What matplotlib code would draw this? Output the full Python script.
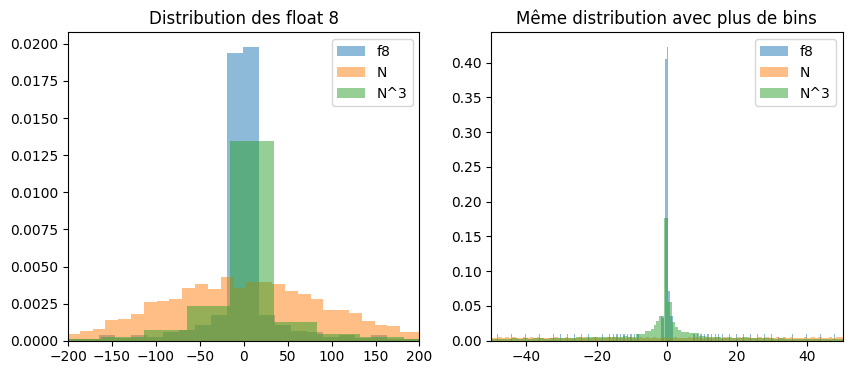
import numpy as np
import matplotlib.pyplot as plt

# ---- left panel: bin edges and densities ----
f8_edges = [-201.0, -182.8, -164.6, -146.4, -128.2, -110.0, -91.8, -73.6, -55.4, -37.2,
            -19.0, -0.8, 17.4, 35.6, 53.8, 72.0, 90.2, 108.4, 126.6, 144.8,
            163.0, 181.2, 199.4, 217.6]
f8_dens = [0.00014, 0.00014, 0.00039, 0.00020, 0.00039, 0.00023, 0.00058, 0.00069, 0.00106, 0.00176,
           0.01938, 0.01979, 0.00176, 0.00106, 0.00068, 0.00058, 0.00023, 0.00039, 0.00020, 0.00039,
           0.00014, 0.00014, 0.00014]

n_edges = [-201.3, -186.7, -172.1, -157.5, -142.9, -128.3, -113.7, -99.1, -84.5, -69.9,
           -55.3, -40.7, -26.1, -11.5, 3.0, 17.6, 32.2, 46.8, 61.4, 76.0,
           90.6, 105.2, 119.8, 134.4, 149.0, 163.6, 178.2, 192.8, 207.4]
n_dens = [0.00047, 0.00067, 0.00081, 0.00142, 0.00148, 0.00182, 0.00263, 0.00270, 0.00283, 0.00357,
          0.00384, 0.00350, 0.00431, 0.00353, 0.00393, 0.00393, 0.00384, 0.00337, 0.00317, 0.00283,
          0.00209, 0.00209, 0.00184, 0.00135, 0.00108, 0.00101, 0.00056, 0.00056]

n3_edges = [-212.3, -163.0, -113.7, -64.4, -15.1, 34.2, 83.5, 132.8, 182.1, 231.4]
n3_dens = [0.00014, 0.00023, 0.00074, 0.00236, 0.01345, 0.00128, 0.00045, 0.00025, 0.00012]

# ---- right panel (more bins) ----
# float8 values that show up as isolated spikes
f8_spikes = [-48, -44, -40, -36, -32, -30, -28, -26, -24, -22, -20, -18, -16, -15, -14, -13, -12, -11, -10, -9, -8,
             8, 9, 10, 11, 12, 13, 14, 15, 16, 18, 20, 22, 24, 26, 28, 30, 32, 36, 40, 44, 48]
f8_spike_dens = [.0096, .0094, .0097, .0095, .0093, .0090, .0095, .0096, .0094, .0092, .0060, .0095, .0096, .0094,
                 .0097, .0090, .0095, .0093, .0096, .0098, .0100,
                 .0100, .0098, .0096, .0095, .0094, .0093, .0095, .0092, .0094, .0096, .0095, .0097, .0094,
                 .0096, .0093, .0095, .0060, .0096, .0094, .0095, .0097]
f8_mid_edges = [-1.8, -0.95, -0.65, 0.0, 0.2, 0.75, 1.7]
f8_mid_dens = [0.0355, 0.0, 0.405, 0.4224, 0.071, 0.0355]

n_r_range = (-50.0, 50.0)
n_r_dens = [.0045, .0038, .0052, .0041, .0047, .0036, .0050, .0043, .0039, .0055,
            .0042, .0048, .0037, .0051, .0044, .0040, .0046, .0035, .0049, .0043,
            .0038, .0053, .0041, .0045, .0036, .0050, .0047, .0039, .0044, .0052,
            .0040, .0046, .0037, .0049, .0042, .0054, .0038, .0045, .0041, .0048,
            .0043, .0036, .0051, .0040, .0047, .0039, .0052, .0044, .0038, .0049,
            .0045, .0041, .0053, .0037, .0046, .0042, .0050, .0039, .0048, .0043,
            .0036, .0051, .0044, .0040, .0047, .0038, .0054, .0042, .0045, .0039,
            .0049, .0043, .0037, .0052, .0046, .0041, .0048, .0035, .0050, .0044,
            .0040, .0055, .0042, .0047, .0038, .0051, .0043, .0046, .0039, .0053,
            .0041, .0048, .0036, .0050, .0044, .0040, .0057, .0043, .0047, .0052]

n3_r_left = (-50.0, -11.0)
n3_r_left_dens = [.0025, .0030, .0022, .0028, .0032, .0026, .0035, .0030, .0038, .0033, .0029, .0036, .0041,
                  .0034, .0045, .0039, .0048, .0043, .0052, .0047, .0050, .0055, .0049, .0058, .0053, .0062]
n3_r_mid_edges = [-11.0, -8.9, -6.1, -4.6, -3.7, -3.0, -2.3, -1.5, -0.95, 0.2, 0.57, 1.5, 2.3, 3.2, 3.9, 6.2, 9.0, 11.0]
n3_r_mid_dens = [0.006, 0.010, 0.0139, 0.017, 0.022, 0.029, 0.036, 0.033, 0.176, 0.055, 0.055,
                 0.027, 0.0196, 0.016, 0.0125, 0.011, 0.007]
n3_r_right = (11.0, 50.0)
n3_r_right_dens = [.0060, .0052, .0057, .0046, .0050, .0041, .0044, .0047, .0038, .0035, .0040, .0032, .0036,
                   .0029, .0033, .0027, .0031, .0025, .0028, .0030, .0023, .0026, .0021, .0024, .0020, .0022]

spike_w = 0.4


def draw_bins(ax, edges, dens, color, label=None):
    edges = np.asarray(edges, dtype=float)
    ax.bar(edges[:-1], dens, width=np.diff(edges), align='edge',
           color=color, alpha=0.5, label=label)


fig, (ax1, ax2) = plt.subplots(1, 2, figsize=(8.52, 3.74), dpi=100)
fig.subplots_adjust(left=0.0798, right=0.989, bottom=0.089, top=0.9136, wspace=0.204)

# left
draw_bins(ax1, f8_edges, f8_dens, 'C0', 'f8')
draw_bins(ax1, n_edges, n_dens, 'C1', 'N')
draw_bins(ax1, n3_edges, n3_dens, 'C2', 'N^3')
ax1.set_xlim(-200, 200)
ax1.set_title('Distribution des float 8')
ax1.legend(loc='upper right')

# right
spikes = np.asarray(f8_spikes, dtype=float)
lo = np.concatenate([spikes - spike_w - 0.05, f8_mid_edges[:-1]])
wd = np.concatenate([np.full(len(spikes), spike_w), np.diff(f8_mid_edges)])
ax2.bar(lo, list(f8_spike_dens) + f8_mid_dens, width=wd, align='edge',
        color='C0', alpha=0.5, label='f8')

draw_bins(ax2, np.linspace(n_r_range[0], n_r_range[1], len(n_r_dens) + 1), n_r_dens, 'C1', 'N')

n3_edges_r = np.concatenate([np.linspace(n3_r_left[0], n3_r_left[1], len(n3_r_left_dens) + 1)[:-1],
                             n3_r_mid_edges,
                             np.linspace(n3_r_right[0], n3_r_right[1], len(n3_r_right_dens) + 1)[1:]])
draw_bins(ax2, n3_edges_r, n3_r_left_dens + n3_r_mid_dens + n3_r_right_dens, 'C2', 'N^3')
ax2.set_xlim(-50, 50)
ax2.set_title('Même distribution avec plus de bins')
ax2.legend(loc='upper right')

fig.savefig('out.png', dpi=100)
